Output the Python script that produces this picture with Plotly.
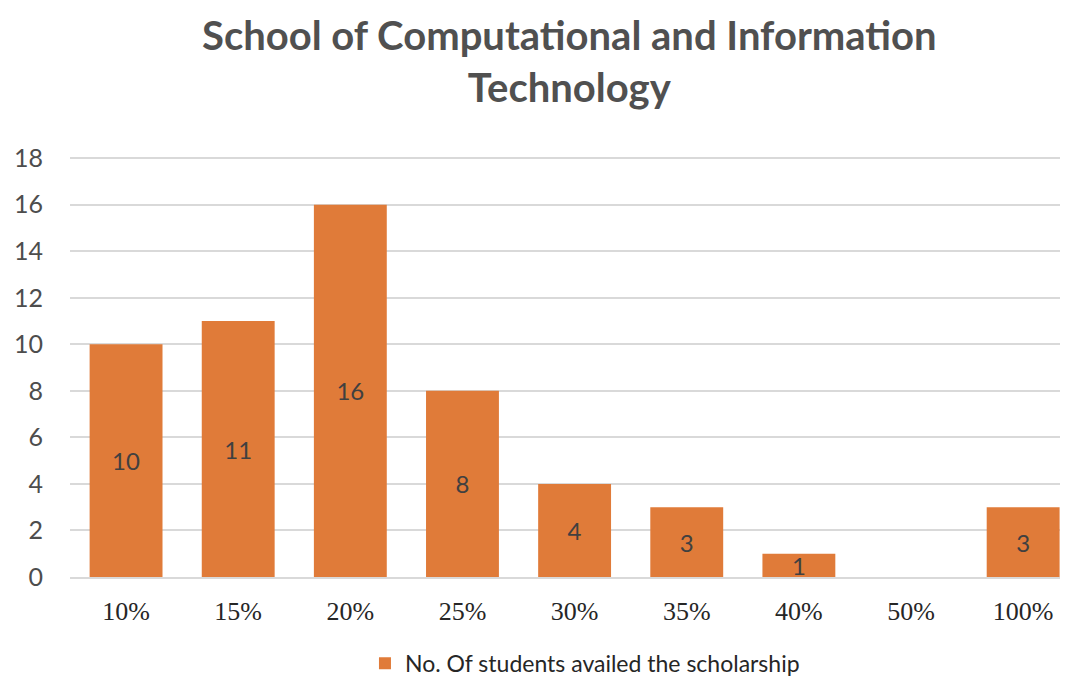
import plotly.graph_objects as go

categories = ["10%", "15%", "20%", "25%", "30%", "35%", "40%", "50%", "100%"]
students = [10, 11, 16, 8, 4, 3, 1, 0, 3]
bar_labels = ["10", "11", "16", "8", "4", "3", "1", "", "3"]

ORANGE = "#E07B39"
GREY = "#505050"

fig = go.Figure()
fig.add_trace(go.Bar(
    x=categories,
    y=students,
    text=bar_labels,
    textposition="inside",
    insidetextanchor="middle",
    textangle=0,
    constraintext="none",
    textfont=dict(family="Lato, Open Sans, sans-serif", size=24, color="#404040"),
    marker=dict(color=ORANGE, line=dict(width=0)),
    width=0.65,
    name="No. Of students availed the scholarship",
    showlegend=True,
))

# two-line title placed as an annotation above the plot
fig.add_annotation(
    text="<b>School of Computational and Information<br>Technology</b>",
    xref="paper", yref="paper",
    x=0.5, y=1.229,
    xanchor="center", yanchor="middle",
    showarrow=False,
    font=dict(family="Lato, Open Sans, sans-serif", size=40, color=GREY),
)

fig.update_layout(
    width=1060,
    height=670,
    paper_bgcolor="white",
    plot_bgcolor="white",
    margin=dict(l=62, r=0, t=149, b=101, autoexpand=False),
    xaxis=dict(
        type="category",
        range=[-0.5, 8.4],
        showgrid=False,
        showline=True,
        linecolor="#D9D9D9",
        linewidth=1.5,
        ticks="",
        automargin=False,
        ticklabelstandoff=10,
        tickfont=dict(family="Liberation Serif, Times New Roman, serif", size=26, color="#262626"),
    ),
    yaxis=dict(
        range=[0, 18.05],
        dtick=2,
        showgrid=True,
        gridcolor="#D9D9D9",
        gridwidth=1.5,
        zeroline=False,
        ticks="",
        automargin=False,
        ticklabelstandoff=26,
        tickfont=dict(family="Lato, Open Sans, sans-serif", size=25, color="#4D4D4D"),
    ),
    legend=dict(
        orientation="h",
        x=0.516,
        xanchor="center",
        yref="container",
        y=0.022,
        yanchor="middle",
        font=dict(family="Lato, Open Sans, sans-serif", size=23, color="#262626"),
    ),
    showlegend=True,
)

fig.write_html("out.html")
